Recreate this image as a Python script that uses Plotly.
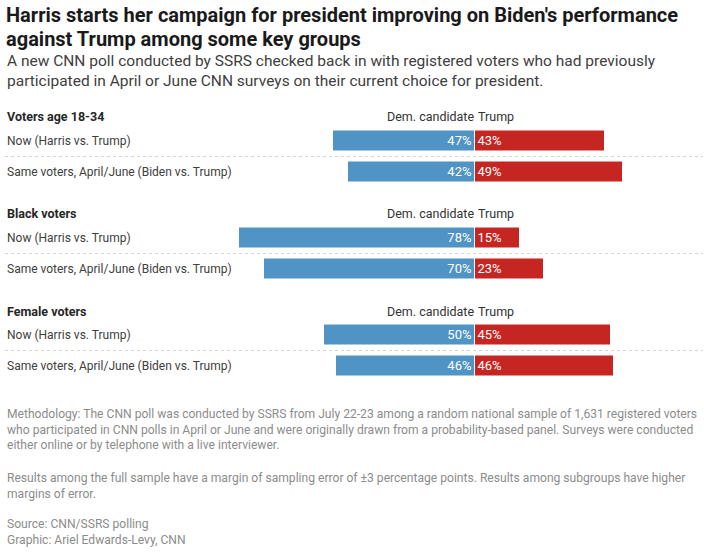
import plotly.graph_objects as go

# ---- data ----
groups = ["Voters age 18-34", "Black voters", "Female voters"]
rows = ["Now (Harris vs. Trump)", "Same voters, April/June (Biden vs. Trump)"]
dem_values = [[47, 42], [78, 70], [50, 46]]
trump_values = [[43, 49], [15, 23], [45, 46]]
dem_label = "Dem. candidate"
trump_label = "Trump"

title_lines = ["Harris starts her campaign for president improving on Biden's performance",
               "against Trump among some key groups"]
subtitle = ("A new CNN poll conducted by SSRS checked back in with registered voters who had previously<br>"
            "participated in April or June CNN surveys on their current choice for president.")
methodology = ("Methodology: The CNN poll was conducted by SSRS from July 22-23 among a random national sample of 1,631 registered voters<br>"
               "who participated in CNN polls in April or June and were originally drawn from a probability-based panel. Surveys were conducted<br>"
               "either online or by telephone with a live interviewer.")
results_note = ("Results among the full sample have a margin of sampling error of \u00b13 percentage points. Results among subgroups have higher<br>"
                "margins of error.")
source_note = "Source: CNN/SSRS polling<br>Graphic: Ariel Edwards-Levy, CNN"

# ---- styling ----
W, H = 704, 553
BLUE = "#5093c5"
RED = "#c62622"
FONT = "Roboto"
center_px = 475
px_per_pct = 3.02
x_range = [-center_px / px_per_pct, (W - center_px) / px_per_pct]

def py(p):
    return 1 - p / H

def px(p):
    return p / W

fig = go.Figure()
layout_axes = {}
annotations = []
shapes = []

group_top = 125.5   # top of first group's plot band (px)
group_step = 97
band_h = 62

for g, name in enumerate(groups):
    ya = "y" if g == 0 else f"y{g+1}"
    yname = "yaxis" if g == 0 else f"yaxis{g+1}"
    top = group_top + g * group_step
    bottom = top + band_h
    layout_axes[yname] = dict(domain=[py(bottom), py(top)], type="category",
                              categoryorder="array", categoryarray=rows,
                              autorange="reversed", visible=False,
                              range=[1.5, -0.5], fixedrange=True, anchor="x")
    fig.add_trace(go.Bar(
        orientation="h", y=rows, x=[-v for v in dem_values[g]], yaxis=ya, xaxis="x",
        marker=dict(color=BLUE, line=dict(color="white", width=1)),
        width=0.66, text=[f"{v}%" for v in dem_values[g]],
        textposition="inside", insidetextanchor="start",
        textfont=dict(color="white", size=13, family=FONT),
        customdata=dem_values[g], hovertemplate=f"{name}<br>%{{y}}<br>{dem_label}: %{{customdata}}%<extra></extra>",
        showlegend=False,
    ))
    fig.add_trace(go.Bar(
        orientation="h", y=rows, x=trump_values[g], yaxis=ya, xaxis="x",
        marker=dict(color=RED, line=dict(color="white", width=1)),
        width=0.66, text=[f"{v}%" for v in trump_values[g]],
        textposition="inside", insidetextanchor="start",
        textfont=dict(color="white", size=13, family=FONT),
        hovertemplate=f"{name}<br>%{{y}}<br>{trump_label}: %{{x}}%<extra></extra>",
        showlegend=False,
    ))
    # group header
    header_y = top - 8.5
    annotations.append(dict(text=f"<b>{name}</b>", x=px(5), y=py(header_y), xref="paper", yref="paper",
                            xanchor="left", yanchor="middle", showarrow=False,
                            font=dict(size=12.5, color="#262626", family=FONT)))
    annotations.append(dict(text=dem_label, x=px(476), y=py(header_y), xref="paper", yref="paper",
                            xanchor="right", yanchor="middle", showarrow=False,
                            font=dict(size=12.5, color="#333333", family=FONT)))
    annotations.append(dict(text=trump_label, x=px(476), y=py(header_y), xref="paper", yref="paper",
                            xanchor="left", yanchor="middle", showarrow=False,
                            font=dict(size=12.5, color="#333333", family=FONT)))
    # row labels
    for r, rl in enumerate(rows):
        annotations.append(dict(text=rl, x=px(5), y=r, xref="paper", yref=ya,
                                xanchor="left", yanchor="middle", showarrow=False,
                                font=dict(size=12, color="#404040", family=FONT)))
    shapes.append(dict(type="line", xref="paper", yref=ya, x0=px(5), x1=px(703), y0=0.5, y1=0.5,
                       line=dict(color="#d4d4d4", width=1, dash="dot")))

for i, line in enumerate(title_lines):
    annotations.append(dict(text=f"<b>{line}</b>", x=px(4), y=py(15 + 23.5 * i), xref="paper", yref="paper",
                            xanchor="left", yanchor="middle", align="left", showarrow=False,
                            font=dict(size=20, color="#1a1a1a", family=FONT)))
annotations.append(dict(text=subtitle, x=px(5), y=py(70.5), xref="paper", yref="paper",
                        xanchor="left", yanchor="middle", align="left", showarrow=False,
                        font=dict(size=15.5, color="#404040", family=FONT)))
for txt, yc in [(methodology, 429), (results_note, 486), (source_note, 532)]:
    annotations.append(dict(text=txt, x=px(5), y=py(yc), xref="paper", yref="paper",
                            xanchor="left", yanchor="middle", align="left", showarrow=False,
                            font=dict(size=12.1, color="#8c8c8c", family=FONT)))

fig.update_layout(
    width=W, height=H, margin=dict(l=0, r=0, t=0, b=0),
    paper_bgcolor="white", plot_bgcolor="white",
    barmode="overlay", bargap=0,
    xaxis=dict(range=x_range, domain=[0, 1], visible=False, fixedrange=True, anchor="y"),
    annotations=annotations, shapes=shapes,
    font=dict(family=FONT),
    **layout_axes,
)

fig.write_html("out.html", config={"displayModeBar": False},
               post_script="document.body.style.margin='0';")
